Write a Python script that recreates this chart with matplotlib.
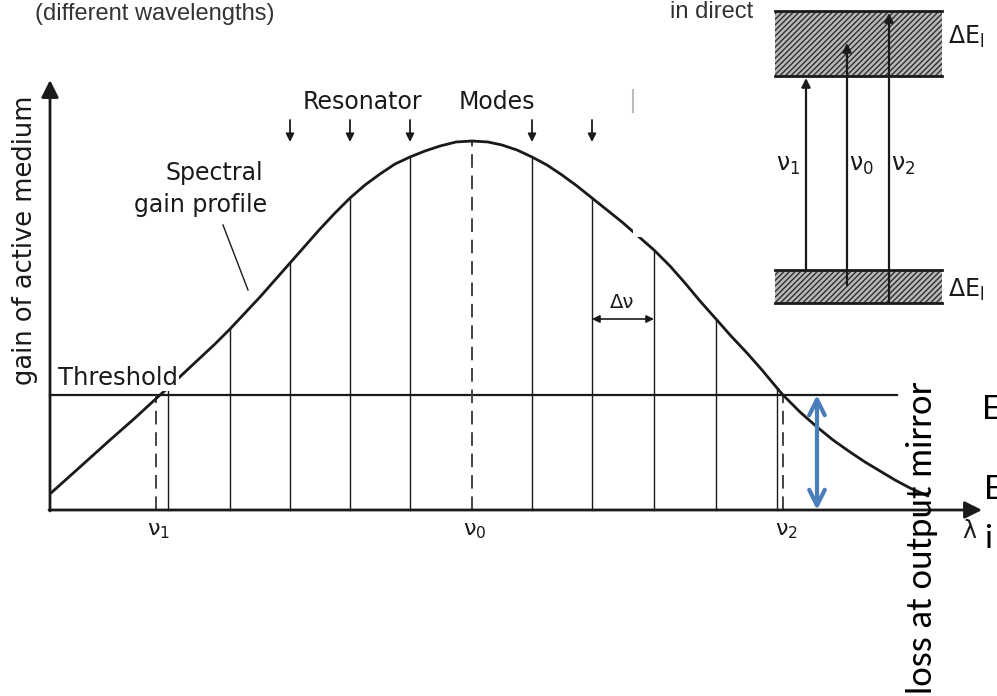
import numpy as np
import matplotlib.pyplot as plt
from matplotlib.patches import Rectangle

# gain profile sampled along the wavelength axis (diagram units, y grows downward)
profile_x = [51, 80, 110, 135, 160, 168, 185, 200, 215, 230, 245, 260, 275, 290,
             305, 320, 335, 350, 365, 380, 395, 410, 425, 440, 456, 472, 488, 502,
             517, 532, 547, 562, 577, 592, 607, 622, 638, 654, 670, 685, 700, 716,
             731, 747, 762, 777, 783, 800, 817, 833, 850, 865, 880, 895, 910, 928]
profile_y = [493, 467, 440, 418, 395, 388, 372, 358, 344, 329, 313, 297, 280, 263,
             246, 229, 213, 198, 185, 174, 164, 157, 151, 146, 142, 141, 142, 145,
             150, 157, 165, 175, 186, 198, 210, 222, 236, 250, 266, 283, 301, 319,
             336, 353, 370, 388, 395, 412, 427, 440, 452, 462, 471, 480, 488, 496]

# resonator modes (solid lines) and the three marked frequencies (dashed)
mode_x = [168, 230, 290, 350, 410, 532, 592, 654, 716, 777]
marked_x = [156, 472, 783]
marked_labels = ["ν$_1$", "ν$_0$", "ν$_2$"]
arrow_modes = [290, 350, 410, 532, 592]

baseline = 510
threshold = 395
loss_x = 817

# energy level scheme: transitions and their labels
trans_x = [806, 847, 889]
trans_start = [270, 285, 303]
trans_end = [78, 43, 13]
trans_labels = ["ν$_1$", "ν$_0$", "ν$_2$"]

ink = "#1a1a1a"
plt.rcParams["mathtext.default"] = "regular"
plt.rcParams["hatch.linewidth"] = 1.0

fig = plt.figure(figsize=(9.97, 6.96), dpi=100)
ax = fig.add_axes([0, 0, 1, 1])
ax.set_xlim(0, 997)
ax.set_ylim(696, 0)
ax.axis("off")


def arrow(ax, tail, tip, lw=1.5, scale=14, color=ink, style="-|>"):
    ax.annotate("", xy=tip, xytext=tail,
                arrowprops=dict(arrowstyle=style, lw=lw, color=color,
                                mutation_scale=scale, shrinkA=0, shrinkB=0))


# axes of the gain diagram
arrow(ax, (50, baseline + 1), (50, 80), lw=2, scale=26)
arrow(ax, (49, baseline), (982, baseline), lw=2, scale=26)

ax.plot(profile_x, profile_y, color=ink, lw=2, solid_capstyle="round",
        solid_joinstyle="round", zorder=3)
ax.plot([50, 897], [threshold, threshold], color=ink, lw=1.6, zorder=2)

top = dict(zip(profile_x, profile_y))
for x in mode_x:
    ax.plot([x, x], [baseline, top[x]], color=ink, lw=1.0)
for x, lab in zip(marked_x, marked_labels):
    y_end = top[x] if x == 472 else threshold
    ax.plot([x, x], [baseline, y_end], color="#444444", lw=1.4, dashes=(7, 4))
    ax.text(x + 3, 531, lab, fontsize=16, ha="center", va="center", color=ink)

for x in arrow_modes:
    arrow(ax, (x, 120), (x, 142), lw=1.3, scale=12)

ax.text(303, 102, "Resonator", fontsize=17, va="center", ha="left", color=ink)
ax.text(459, 102, "Modes", fontsize=17, va="center", ha="left", color=ink)
ax.text(214, 173, "Spectral", fontsize=17, va="center", ha="center", color=ink)
ax.text(201, 205, "gain profile", fontsize=17, va="center", ha="center", color=ink)
ax.plot([223, 248], [225, 290], color=ink, lw=1.0)
ax.text(58, 378, "Threshold", fontsize=17.5, va="center", ha="left", color=ink,
        zorder=4, bbox=dict(facecolor="white", edgecolor="none", pad=1))
ax.text(25, 240, "gain of active medium", fontsize=18.5, rotation=90,
        va="center", ha="center", color=ink)

# mode spacing
arrow(ax, (592, 319), (654, 319), lw=1.2, scale=11, style="<|-|>")
ax.text(622, 302, "Δν", fontsize=14, ha="center", va="center", color=ink)
ax.text(969, 531, "λ", fontsize=17, ha="center", va="center", color=ink)

# blank panel over part of the profile
ax.add_patch(Rectangle((633, 85), 135, 152, facecolor="white", edgecolor="none", zorder=5))
ax.plot([633, 633], [90, 112], color="#bbbbbb", lw=1.5, zorder=6)

# energy bands
for y0, y1 in [(11, 76), (270, 303)]:
    ax.add_patch(Rectangle((775, y0), 167, y1 - y0, facecolor="#b8b8b8",
                           edgecolor="#2e2e2e", hatch="//////", lw=0, zorder=2))
    ax.plot([775, 942], [y0, y0], color=ink, lw=2, zorder=3)
    ax.plot([775, 942], [y1, y1], color=ink, lw=2, zorder=3)
for x, y0, y1, lab in zip(trans_x, trans_start, trans_end, trans_labels):
    arrow(ax, (x, y0), (x, y1), lw=1.6, scale=13)
    ax.text(x + 14 if x > 806 else x - 18, 165, lab, fontsize=17,
            ha="center", va="center", color=ink)
ax.text(948, 37, "ΔE$_l$", fontsize=17, va="center", ha="left", color=ink)
ax.text(948, 290, "ΔE$_l$", fontsize=17, va="center", ha="left", color=ink)

# header fragments
ax.text(35, 20, "(different wavelengths)", fontsize=17, color="#333333",
        family="Liberation Sans", va="baseline")
ax.text(670, 18, "in direct", fontsize=17, color="#333333",
        family="Liberation Sans", va="baseline")

# round-trip loss
arrow(ax, (loss_x, baseline), (loss_x, threshold), lw=3, scale=28,
      color="#4a7ebb", style="<->")
ax.text(922, 538, "loss at output mirror", fontsize=25, rotation=90, family="Lato",
        ha="center", va="center", color="black")
for y, s, x in [(410, "E", 982), (490, "E", 984), (539, "i", 984)]:
    ax.text(x, y, s, fontsize=24, family="Lato", va="center", ha="left", color="black")

fig.savefig("out.png", dpi=100)
